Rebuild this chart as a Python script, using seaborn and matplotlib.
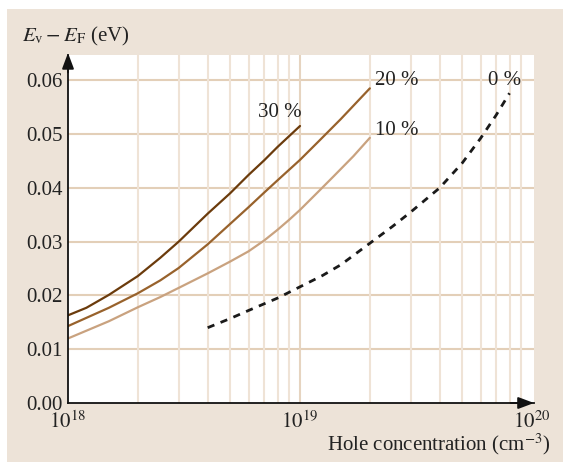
import numpy as np
import pandas as pd
import matplotlib
matplotlib.use("Agg")
import matplotlib.pyplot as plt
import seaborn as sns
from matplotlib.patches import Rectangle

# ---- data ----
x30 = [1e18, 1.2e18, 1.5e18, 2e18, 2.5e18, 3e18, 4e18, 5e18, 6e18, 7e18, 8e18, 1e19]
y30 = [0.0163, 0.0177, 0.0201, 0.0236, 0.0270, 0.0300, 0.0352, 0.0390, 0.0424, 0.0451, 0.0476, 0.0515]

x20 = [1e18, 1.5e18, 2e18, 2.5e18, 3e18, 4e18, 5e18, 6e18, 7e18, 8e18, 1e19, 1.2e19, 1.5e19, 2e19]
y20 = [0.0143, 0.0177, 0.0204, 0.0228, 0.0251, 0.0295, 0.0333, 0.0364, 0.0391, 0.0414, 0.0452, 0.0486, 0.0528, 0.0585]

x10 = [1e18, 1.5e18, 2e18, 2.5e18, 3e18, 4e18, 5e18, 6e18, 7e18, 8e18, 9e18, 1e19, 1.2e19, 1.4e19, 1.7e19, 2e19]
y10 = [0.0120, 0.0152, 0.0178, 0.0197, 0.0214, 0.0241, 0.0263, 0.0282, 0.0302, 0.0322, 0.0341, 0.0359, 0.0393, 0.0422, 0.0459, 0.0493]

x0 = [4e18, 5e18, 6e18, 8e18, 1e19, 1.25e19, 1.5e19, 2e19, 2.5e19, 3e19, 4e19, 5e19, 6e19, 7e19, 8e19]
y0 = [0.0140, 0.0157, 0.0172, 0.0195, 0.0216, 0.0237, 0.0257, 0.0297, 0.0328, 0.0355, 0.0400, 0.0446, 0.0492, 0.0535, 0.0576]

labels = ["30 %", "20 %", "10 %", "0 %"]
colors = {"30 %": "#6b3b0c", "20 %": "#98622c", "10 %": "#c9a27f", "0 %": "#1a1a1a"}
yticks = [0.00, 0.01, 0.02, 0.03, 0.04, 0.05, 0.06]
xtick_vals = [1e18, 1e19, 1e20]
xtick_labels = [r"$10^{18}$", r"$10^{19}$", r"$10^{20}$"]

df = pd.concat([
    pd.DataFrame({"x": x30, "y": y30, "s": "30 %"}),
    pd.DataFrame({"x": x20, "y": y20, "s": "20 %"}),
    pd.DataFrame({"x": x10, "y": y10, "s": "10 %"}),
    pd.DataFrame({"x": x0, "y": y0, "s": "0 %"}),
])

sns.set_theme(style="white")
plt.rcParams["font.family"] = ["Liberation Serif", "DejaVu Serif"]
plt.rcParams["mathtext.fontset"] = "stix"

FS = 15
W, H = 563, 462
fig = plt.figure(figsize=(W / 100, H / 100), dpi=100)
fig.patch.set_facecolor("white")
fig.patches.append(Rectangle((7 / W, 0), 1 - 7 / W, 1 - 9 / H, transform=fig.transFigure,
                             facecolor="#ede3d8", edgecolor="none", zorder=-10))

ax = fig.add_axes([68 / W, (H - 403) / H, 466 / W, 348 / H])
ax.set_facecolor("white")

# grid
for v in [0.01, 0.02, 0.03, 0.04, 0.05, 0.06]:
    ax.axhline(v, color="#e3cfb8", lw=1.5, zorder=0)
for dec in [1e18, 1e19]:
    for m in range(2, 11):
        xv = m * dec
        if xv >= 1e20:
            continue
        col = "#e6d4c0" if m == 10 else "#efe3d6"
        ax.axvline(xv, color=col, lw=1.5, zorder=0)

for s in labels:
    sub = df[df["s"] == s]
    sns.lineplot(data=sub, x="x", y="y", ax=ax, color=colors[s],
                 lw=1.6 if s != "0 %" else 2.0,
                 linestyle=(0, (2.6, 2.4)) if s == "0 %" else "-",
                 legend=False, zorder=3)

ax.set_xscale("log")
ax.set_xlim(1e18, 1.02e20)
ax.set_ylim(0, 0.0647)
ax.set_yticks(yticks)
ax.set_yticklabels([f"{v:.2f}" for v in yticks], fontsize=FS, color="#222222")
ax.set_xticks(xtick_vals)
ax.set_xticklabels(xtick_labels, fontsize=FS, color="#222222")
ax.xaxis.set_minor_locator(matplotlib.ticker.NullLocator())
ax.tick_params(axis="y", length=0, pad=4)
ax.tick_params(axis="x", length=0, pad=6)
ax.set_xlabel("")
ax.set_ylabel("")

for sp in ["top", "right"]:
    ax.spines[sp].set_visible(False)
for sp in ["left", "bottom"]:
    ax.spines[sp].set_color("#111111")
    ax.spines[sp].set_linewidth(1.3)
    ax.spines[sp].set_zorder(5)

# arrow heads
ax.annotate("", xy=(0, 1.006), xytext=(0, 0.95), xycoords="axes fraction",
            arrowprops=dict(arrowstyle="-|>,head_length=0.8,head_width=0.3",
                        color="#111111", lw=1.3, shrinkA=0, shrinkB=0), annotation_clip=False)
ax.annotate("", xy=(1.0, 0), xytext=(0.95, 0), xycoords="axes fraction",
            arrowprops=dict(arrowstyle="-|>,head_length=0.8,head_width=0.3",
                        color="#111111", lw=1.3, shrinkA=0, shrinkB=0), annotation_clip=False)

# curve labels
lab_pos = {"30 %": (8.2e18, 0.0541), "20 %": (2.6e19, 0.0600),
           "10 %": (2.6e19, 0.0506), "0 %": (7.6e19, 0.0600)}
for s, (lx, ly) in lab_pos.items():
    ax.text(lx, ly, s, fontsize=FS, ha="center", va="center", color="#222222", zorder=6)

fig.text(22 / W, 1 - 36 / H, r"$E_{\mathrm{v}} - E_{\mathrm{F}}$ (eV)", fontsize=FS,
         ha="left", va="center", color="#222222")
fig.text(551 / W, 1 - 444 / H, r"Hole concentration (cm$^{-3}$)", fontsize=FS,
         ha="right", va="center", color="#222222")

fig.savefig("out.png", dpi=100, facecolor=fig.get_facecolor())
